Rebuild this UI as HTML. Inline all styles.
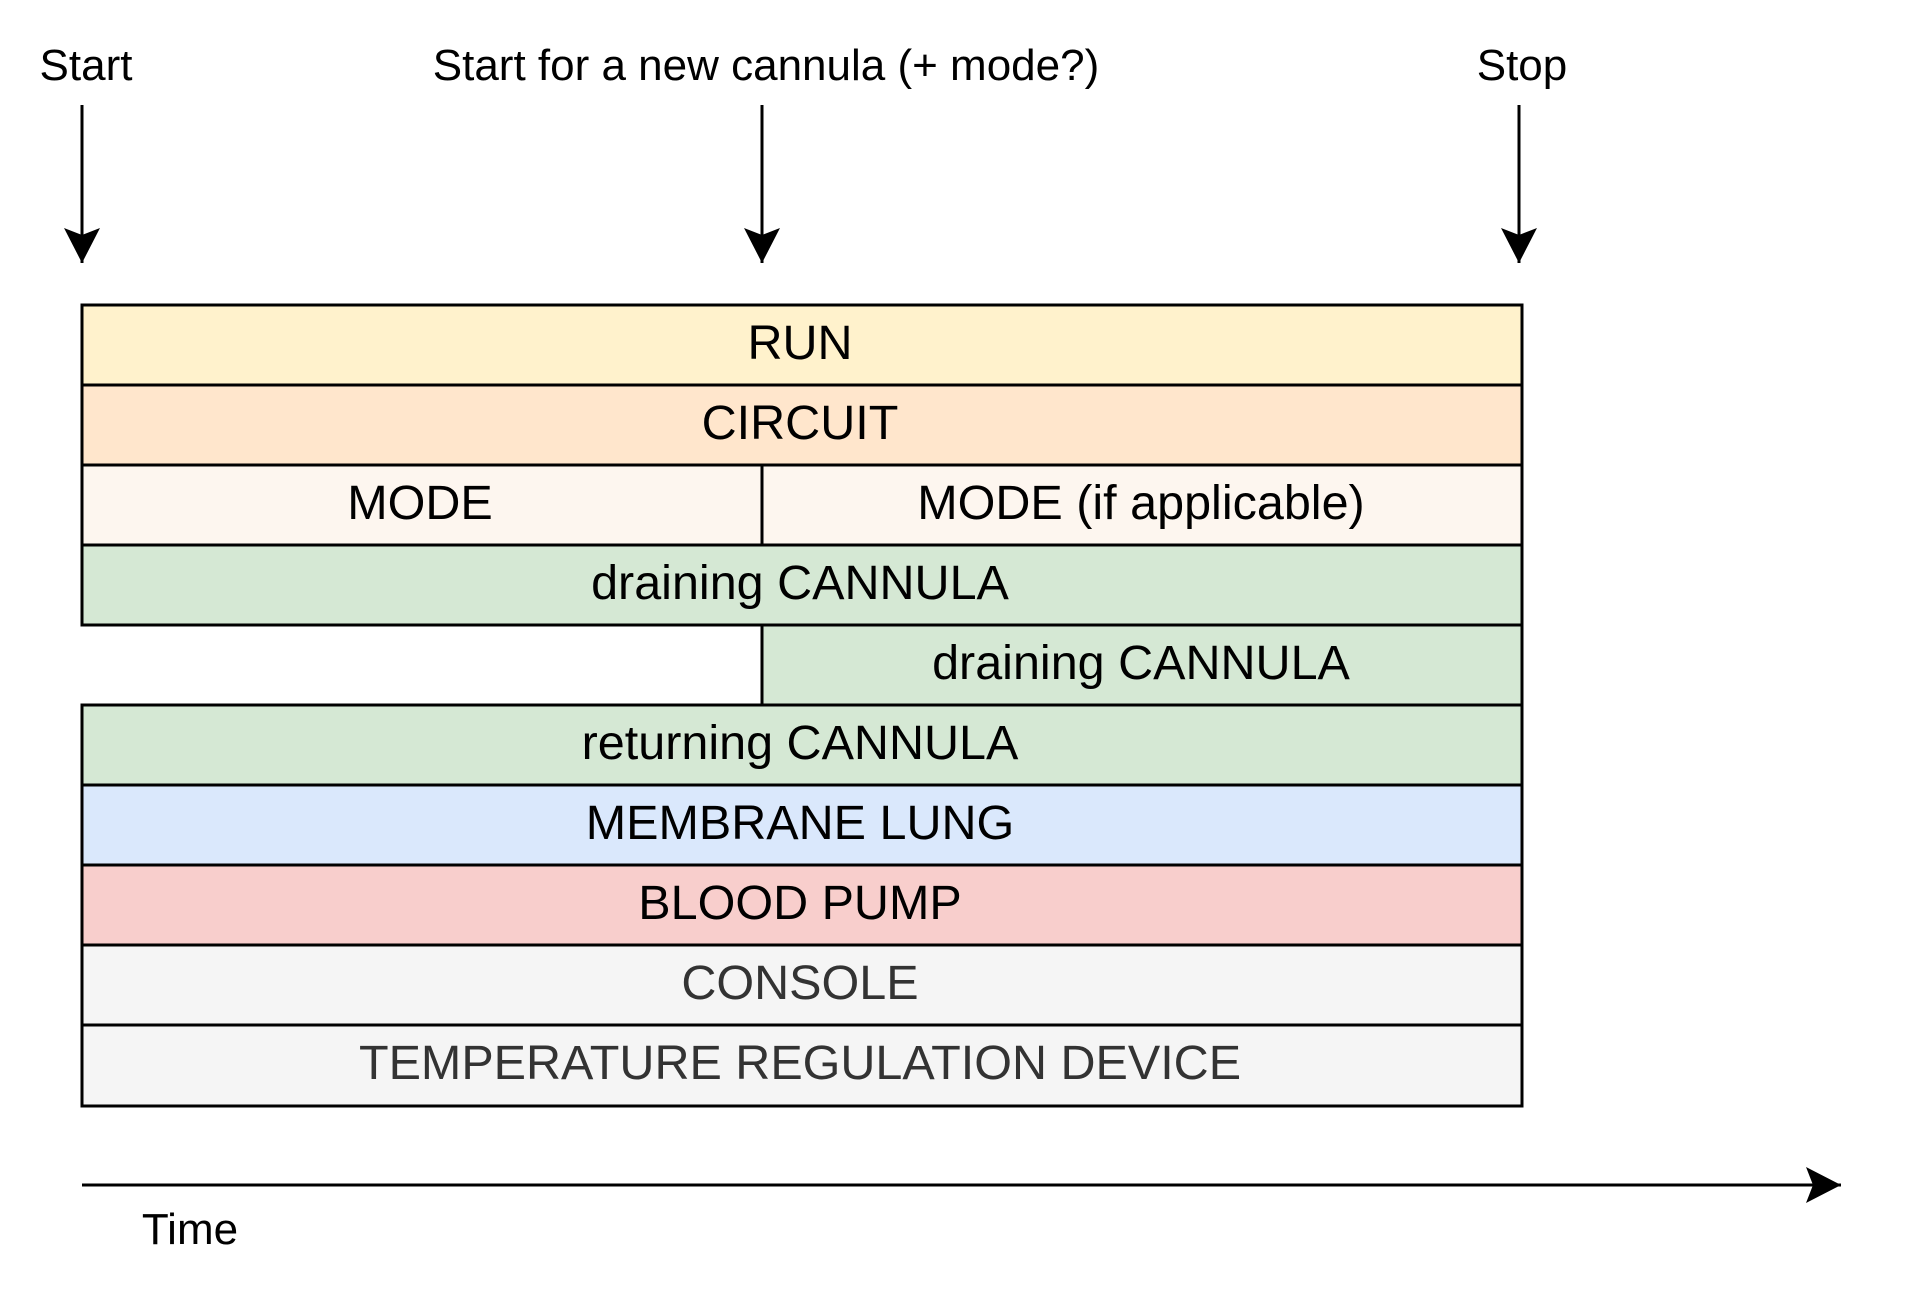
<!DOCTYPE html>
<html><head><meta charset="utf-8"><style>
html,body{margin:0;padding:0;background:#fff;}
body{width:1920px;height:1296px;position:relative;overflow:hidden;font-family:"Liberation Sans",Arial,sans-serif;}
svg{position:absolute;left:0;top:0;}
</style></head><body>
<svg width="1920" height="1296" viewBox="0 0 1920 1296" font-family="Liberation Sans, Arial, sans-serif">
<defs>
<marker id="ah" markerUnits="userSpaceOnUse" markerWidth="40" markerHeight="40" viewBox="0 0 40 40" refX="36" refY="20" orient="auto">
<path d="M1,2 L36,20 L1,38 L8,20 Z" fill="#000"/>
</marker>
</defs>
<g stroke="#000" stroke-width="3">
<rect x="82" y="305" width="1440" height="80" fill="#fff2cc"/>
<rect x="82" y="385" width="1440" height="80" fill="#ffe6cc"/>
<rect x="82" y="465" width="680" height="80" fill="#fdf6ef"/>
<rect x="762" y="465" width="760" height="80" fill="#fdf6ef"/>
<rect x="82" y="545" width="1440" height="80" fill="#d5e8d4"/>
<rect x="762" y="625" width="760" height="80" fill="#d5e8d4"/>
<rect x="82" y="705" width="1440" height="80" fill="#d5e8d4"/>
<rect x="82" y="785" width="1440" height="80" fill="#dae8fc"/>
<rect x="82" y="865" width="1440" height="80" fill="#f8cecc"/>
<rect x="82" y="945" width="1440" height="80" fill="#f5f5f5"/>
<rect x="82" y="1025" width="1440" height="81" fill="#f5f5f5"/>
<line x1="82" y1="105" x2="82" y2="263" marker-end="url(#ah)"/>
<line x1="762" y1="105" x2="762" y2="263" marker-end="url(#ah)"/>
<line x1="1519" y1="105" x2="1519" y2="263" marker-end="url(#ah)"/>
<line x1="82" y1="1185" x2="1841" y2="1185" marker-end="url(#ah)"/>
</g>
<g font-size="48.5" text-anchor="middle" fill="#000">
<text x="800" y="359">RUN</text>
<text x="800" y="439">CIRCUIT</text>
<text x="420" y="519">MODE</text>
<text x="1141" y="519">MODE (if applicable)</text>
<text x="800" y="599">draining CANNULA</text>
<text x="1141" y="679">draining CANNULA</text>
<text x="800" y="759">returning CANNULA</text>
<text x="800" y="839">MEMBRANE LUNG</text>
<text x="800" y="919">BLOOD PUMP</text>
<text x="800" y="999" fill="#333">CONSOLE</text>
<text x="800" y="1079" fill="#333">TEMPERATURE REGULATION DEVICE</text>
</g>
<g font-size="44" text-anchor="middle" fill="#000">
<text x="86" y="80">Start</text>
<text x="766" y="80">Start for a new cannula (+ mode?)</text>
<text x="1522" y="80">Stop</text>
<text x="190" y="1244">Time</text>
</g>
</svg>
</body></html>
